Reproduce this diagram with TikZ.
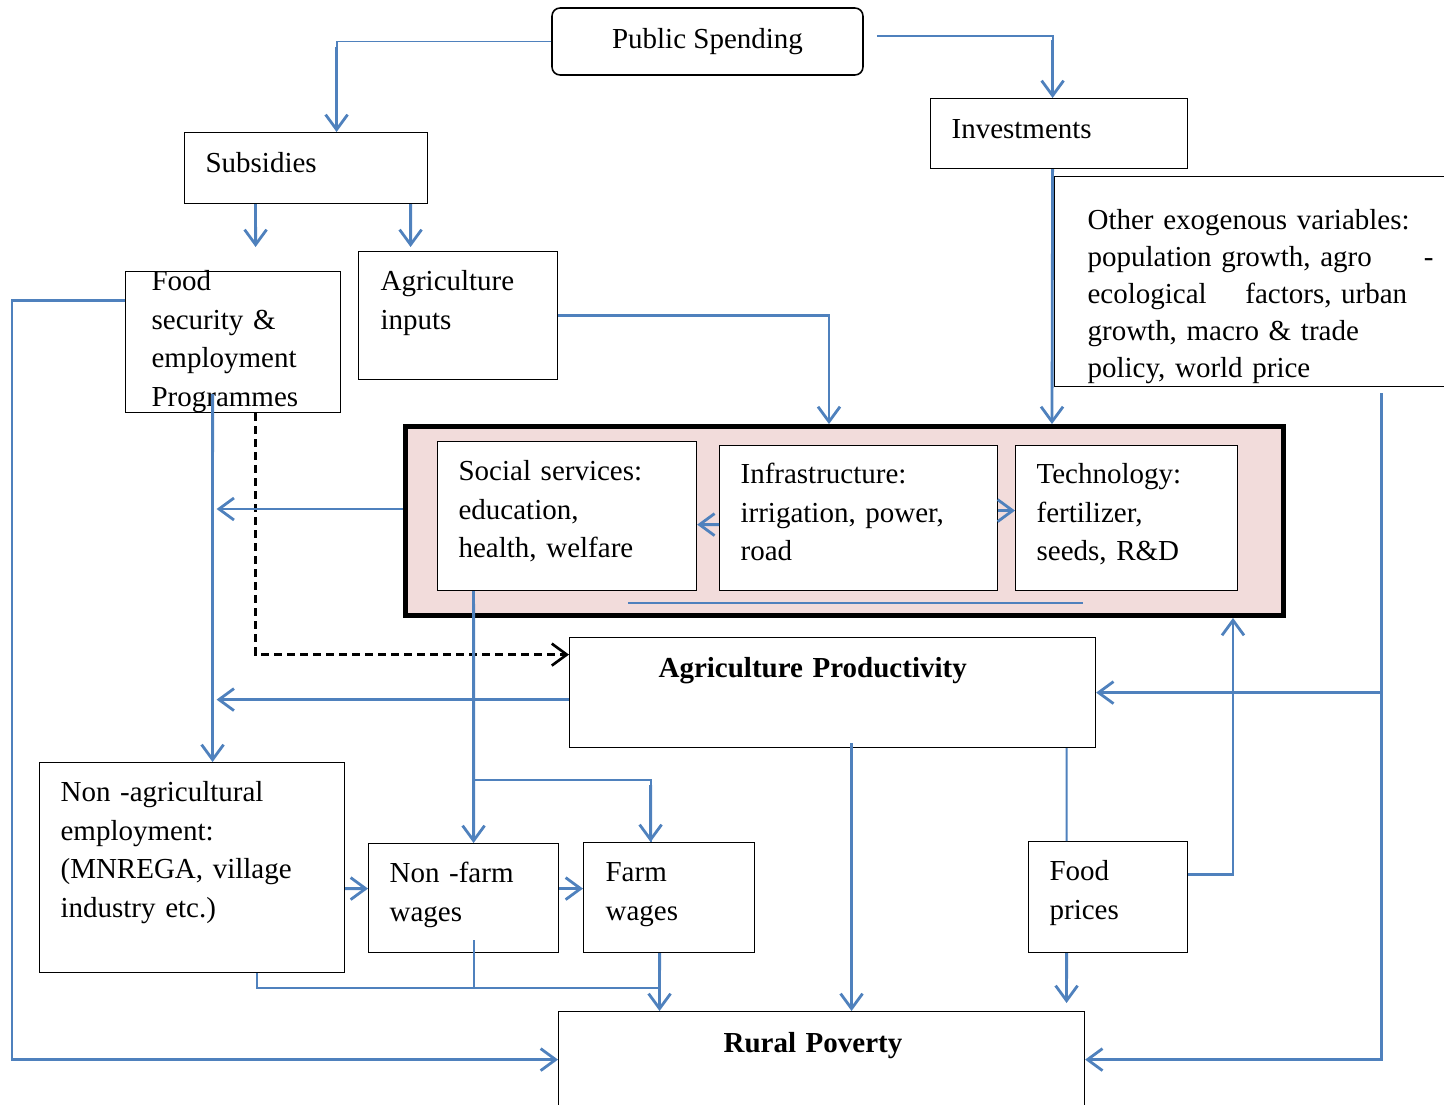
\documentclass[tikz,border=0pt]{standalone}
\usepackage{fontspec}
\setmainfont{Liberation Serif}
\usetikzlibrary{arrows.meta,calc}
\definecolor{linkblue}{HTML}{4F81BD}
\definecolor{boxpink}{HTML}{F2DCDB}
\begin{document}
\begin{tikzpicture}[x=0.02cm, y=-0.02cm, >={Straight Barb[length=0.3cm,width=0.44cm]},
    every node/.style={font=\fontsize{16.5}{22}\selectfont},
    box/.style={draw, fill=white, line width=0.7pt, align=left, anchor=north west, inner xsep=0.42cm, inner ysep=0pt},
    link/.style={draw=linkblue, line width=1.6pt},
    thinlink/.style={draw=linkblue, line width=1.1pt}]
    \useasboundingbox (0,0) rectangle (1444,1105);
    \clip (0,0) rectangle (1444,1105);

    \node[draw, rounded corners=0.16cm, line width=0.9pt, minimum width=6.22cm, minimum height=1.34cm] (pub) at (707.5,41.5) {Public Spending};
    \node[box, text width=4.3cm, text height=0.8cm, text depth=0.6cm] (inv) at (930,98) {Investments};
    \node[box, text width=4.02cm, text height=0.8cm, text depth=0.62cm] (sub) at (184,132) {Subsidies};
    \node[box, inner xsep=0.52cm, text width=3.26cm, text height=0.38cm, text depth=2.44cm] (food) at (125,271) {Food\\security \&\\employment\\Programmes};
    \node[box, inner xsep=0.44cm, text width=3.1cm, text height=0.78cm, text depth=1.78cm] (inputs) at (358,251) {Agriculture\\inputs};
    \node[box, font=\fontsize{16.5}{21}\selectfont, inner xsep=0.66cm, text width=6.92cm, text height=1.06cm, text depth=3.14cm] (exo) at (1054,176) {Other exogenous variables:\\population growth, agro\hfill-\\ecological\quad\ factors, urban\\growth, macro \& trade\\policy, world price};

    % the pink block
    \node[draw, line width=2.8pt, fill=boxpink, minimum width=17.56cm, minimum height=3.78cm] (sys) at (844.5,521) {};
    \node[box, text width=4.34cm, text height=0.78cm, text depth=2.2cm] (soc) at (437,441) {Social services:\\education,\\health, welfare};
    \node[box, text width=4.72cm, text height=0.76cm, text depth=2.14cm] (infra) at (719,445) {Infrastructure:\\irrigation, power,\\road};
    \node[box, text width=3.6cm, text height=0.76cm, text depth=2.14cm] (tech) at (1015,445) {Technology:\\fertilizer,\\seeds, R\&D};

    \node[box, inner xsep=1.78cm, text width=6.96cm, text height=0.8cm, text depth=1.4cm] (prod) at (569,637) {\textbf{Agriculture Productivity}};
    \node[box, text width=5.26cm, text height=0.78cm, text depth=3.42cm] (nonag) at (39,762) {Non -agricultural\\employment:\\(MNREGA, village\\industry etc.)};
    \node[box, text width=2.96cm, text height=0.78cm, text depth=1.4cm] (nonfarm) at (368,843) {Non -farm\\wages};
    \node[box, inner xsep=0.44cm, text width=2.54cm, text height=0.78cm, text depth=1.42cm] (farm) at (583,842) {Farm\\wages};
    \node[box, text width=2.34cm, text height=0.78cm, text depth=1.44cm] (fprice) at (1028,841) {Food\\prices};
    \node[box, inner xsep=3.3cm, text width=3.92cm, text height=0.82cm, text depth=1.1cm] (rural) at (558,1011) {\textbf{Rural Poverty}};

    % spending
    \draw[thinlink] (pub.west) -| ($(sub.north)+(30.5,-85)$);
    \draw[link, ->] ($(sub.north)+(30.5,-85)$) -- ($(sub.north)+(30.5,0)$);
    \draw[thinlink] ($(pub.east)+(13,-5.5)$) -| ($(inv.north)+(-6.5,-58)$);
    \draw[link, ->] ($(inv.north)+(-6.5,-58)$) -- ($(inv.north)+(-6.5,0)$);
    \draw[link, ->, shorten >=0.48cm] ($(sub.south)+(-50.5,0)$) -- ($(food.north)+(22.5,0)$);
    \draw[link, ->, shorten >=0.08cm] ($(sub.south)+(104.5,0)$) -- ($(inputs.north)+(-47.5,0)$);
    \draw[link, ->] (inputs.east) -| ($(sys.north)+(-15.5,0)$);
    \draw[link, ->] ($(inv.south)+(-6.5,0)$) -- ($(sys.north)+(207.5,0)$);

    % food security
    \coordinate (fdrop) at ($(food.south)+(-20.5,0)$);
    \draw[link, ->] ($(food.west)+(0,-41.5)$) -- ++(-113,0) |- (rural.west);
    \draw[link, ->] ($(fdrop)+(0,-19)$) -- ($(nonag.north)+(20.5,0)$);
    \draw[line width=1.5pt, dash pattern=on 0.16cm off 0.1cm, ->] ($(food.south)+(22.5,0)$) |- ($(prod.west)+(0,-38)$);
    \draw[link, ->] ($(sys.west)+(0,-12)$) -- ($(fdrop |- sys.west)+(4,-12)$);
    \draw[link, ->] ($(prod.west)+(0,7)$) -- ($(fdrop |- prod.west)+(4,7)$);

    % inside the block
    \draw[link, ->] ($(infra.west)+(0,6.5)$) -- ($(soc.east)+(0,8.5)$);
    \draw[link, ->] ($(infra.east)+(0,-7.5)$) -- ($(tech.west)+(0,-7.5)$);
    \draw[thinlink] ($(sys.south)+(-216.5,-15)$) -- ++(455,0);

    % wages
    \coordinate (split) at ($(soc.south)+(-93.5,189)$);
    \draw[link, ->] ($(soc.south)+(-93.5,0)$) -- ($(nonfarm.north)+(10,0)$);
    \draw[thinlink] (split) -| ($(farm.north)+(-18.5,0)$);
    \draw[link, ->] ($(split)+(177,5)$) -- ($(farm.north)+(-18.5,0)$);
    \draw[link, ->] ($(nonag.east)+(0,21)$) -- ($(nonfarm.west)+(0,-9.5)$);
    \draw[link, ->] ($(nonfarm.east)+(0,-9.5)$) -- ($(farm.west)+(0,-9)$);
    \draw[thinlink] ($(nonag.south)+(64.5,0)$) |- ($(farm.south)+(-9.5,35)$);
    \draw[thinlink] ($(nonfarm.south)+(10,-13)$) -- ++(0,48);
    \draw[link, ->] ($(farm.south)+(-9.5,0)$) -- ($(rural.north)+(-162,0)$);

    % productivity and prices
    \draw[link, ->] ($(prod.south)+(19,-5)$) -- ($(rural.north)+(30,0)$);
    \draw[thinlink] ($(prod.south)+(234,0)$) -- ($(fprice.north)+(-41.5,0)$);
    \draw[link, ->] ($(fprice.east)+(0,-22.5)$) -| ($(sys.south)+(388.5,0)$);
    \draw[link, ->, shorten >=0.16cm] ($(fprice.south)+(-41.5,0)$) -- ($(rural.north)+(245,0)$);

    % exogenous variables
    \coordinate (exdrop) at ($(exo.south)+(121,6)$);
    \draw[link, ->] (exdrop) |- (rural.east);
    \draw[link, ->] (exdrop |- prod.east) -- (prod.east);
\end{tikzpicture}
\end{document}
